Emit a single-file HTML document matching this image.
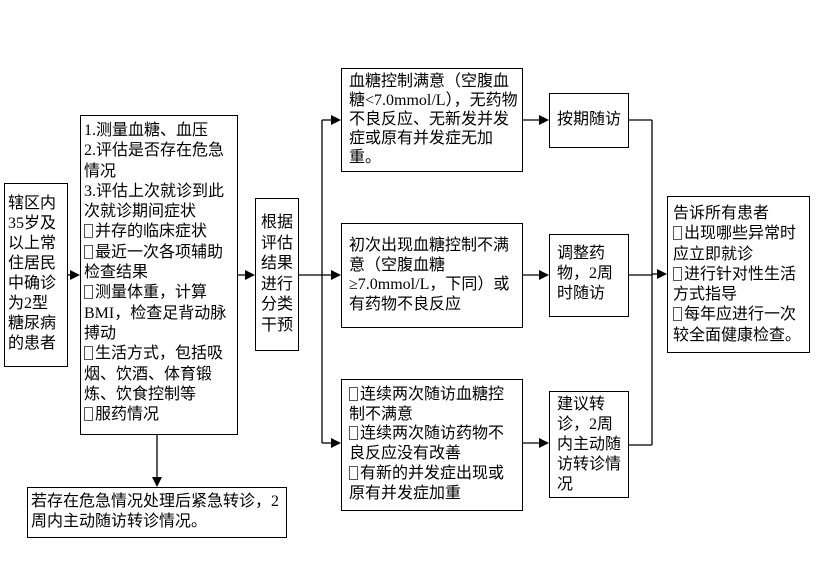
<!DOCTYPE html>
<html><head><meta charset="utf-8"><style>
body{margin:0;background:#fff;width:827px;height:566px;position:relative;overflow:hidden;font-family:"Liberation Serif","Noto Sans CJK SC",sans-serif;color:#000}
.b{position:absolute;border:1px solid #000;box-sizing:border-box;font-size:16px;line-height:20px;padding:2px 3px;white-space:nowrap;overflow:hidden}
.q{display:inline-block;width:9px;height:14px;border:1px solid #555;box-sizing:border-box;vertical-align:-2px;margin-right:2px}
svg{position:absolute;left:0;top:0}
</style></head><body>
<svg width="827" height="566">
<g stroke="#000" stroke-width="1.3" fill="none">
<line x1="68" y1="275" x2="76" y2="275"/>
<line x1="237" y1="275" x2="251" y2="275"/>
<line x1="298" y1="275" x2="322" y2="275"/>
<line x1="322" y1="120" x2="322" y2="443"/>
<line x1="322" y1="120" x2="336" y2="120"/>
<line x1="322" y1="275" x2="336" y2="275"/>
<line x1="322" y1="443" x2="336" y2="443"/>
<line x1="522" y1="120" x2="544" y2="120"/>
<line x1="522" y1="275" x2="544" y2="275"/>
<line x1="522" y1="443" x2="544" y2="443"/>
<line x1="628" y1="120" x2="652" y2="120"/>
<line x1="628" y1="275" x2="652" y2="275"/>
<line x1="628" y1="445" x2="652" y2="445"/>
<line x1="652" y1="120" x2="652" y2="445"/>
<line x1="652" y1="274" x2="662" y2="274"/>
<line x1="157" y1="434" x2="157" y2="480"/>
</g>
<g fill="#000">
<polygon points="80,275 70,270 70,280"/>
<polygon points="255,275 245,270 245,280"/>
<polygon points="341,120 331,115 331,125"/>
<polygon points="341,275 331,270 331,280"/>
<polygon points="341,443 331,438 331,448"/>
<polygon points="549,120 539,115 539,125"/>
<polygon points="549,275 539,270 539,280"/>
<polygon points="549,443 539,438 539,448"/>
<polygon points="667,274 657,269 657,279"/>
<polygon points="157,487 152,477 162,477"/>
</g>
</svg>
<div class="b" style="left:4px;top:183px;width:64px;height:184px;line-height:20px;padding:10px 2px 0 3px">辖区内<br>35岁及<br>以上常<br>住居民<br>中确诊<br>为2型<br>糖尿病<br>的患者</div>
<div class="b" style="left:80px;top:115px;width:158px;height:320px;line-height:20.3px;padding:5px 2px 0 3px">1.测量血糖、血压<br>2.评估是否存在危急<br>情况<br>3.评估上次就诊到此<br>次就诊期间症状<br><span class="q"></span>并存的临床症状<br><span class="q"></span>最近一次各项辅助<br>检查结果<br><span class="q"></span>测量体重，计算<br>BMI，检查足背动脉<br>搏动<br><span class="q"></span>生活方式，包括吸<br>烟、饮酒、体育锻<br>炼、饮食控制等<br><span class="q"></span>服药情况</div>
<div class="b" style="left:255px;top:198px;width:44px;height:153px;line-height:20.5px;padding:14px 2px 0 5px">根据<br>评估<br>结果<br>进行<br>分类<br>干预</div>
<div class="b" style="left:341px;top:68px;width:182px;height:104px;line-height:19px;padding:3px 3px 0 7px">血糖控制满意（空腹血<br>糖&lt;7.0mmol/L），无药物<br>不良反应、无新发并发<br>症或原有并发症无加<br>重。</div>
<div class="b" style="left:549px;top:93px;width:80px;height:55px;padding:16px 2px 0 7px">按期随访</div>
<div class="b" style="left:341px;top:223px;width:182px;height:105px;line-height:19.5px;padding:12px 3px 0 7px">初次出现血糖控制不满<br>意（空腹血糖<br>≥7.0mmol/L，下同）或<br>有药物不良反应</div>
<div class="b" style="left:549px;top:234px;width:80px;height:83px;padding:9px 4px 0 7px">调整药<br>物，2周<br>时随访</div>
<div class="b" style="left:667px;top:196px;width:143px;height:157px;line-height:20.3px;padding:7px 3px 0 5px">告诉所有患者<br><span class="q"></span>出现哪些异常时<br>应立即就诊<br><span class="q"></span>进行针对性生活<br>方式指导<br><span class="q"></span>每年应进行一次<br>较全面健康检查。</div>
<div class="b" style="left:341px;top:379px;width:182px;height:132px;line-height:19.7px;padding:5px 3px 0 7px"><span class="q"></span>连续两次随访血糖控<br>制不满意<br><span class="q"></span>连续两次随访药物不<br>良反应没有改善<br><span class="q"></span>有新的并发症出现或<br>原有并发症加重</div>
<div class="b" style="left:549px;top:391px;width:80px;height:107px;padding:3px 4px 0 7px">建议转<br>诊，2周<br>内主动随<br>访转诊情<br>况</div>
<div class="b" style="left:27px;top:487px;width:260px;height:51px;padding:4px 3px 0 3px">若存在危急情况处理后紧急转诊，2<br>周内主动随访转诊情况。</div>
</body></html>
